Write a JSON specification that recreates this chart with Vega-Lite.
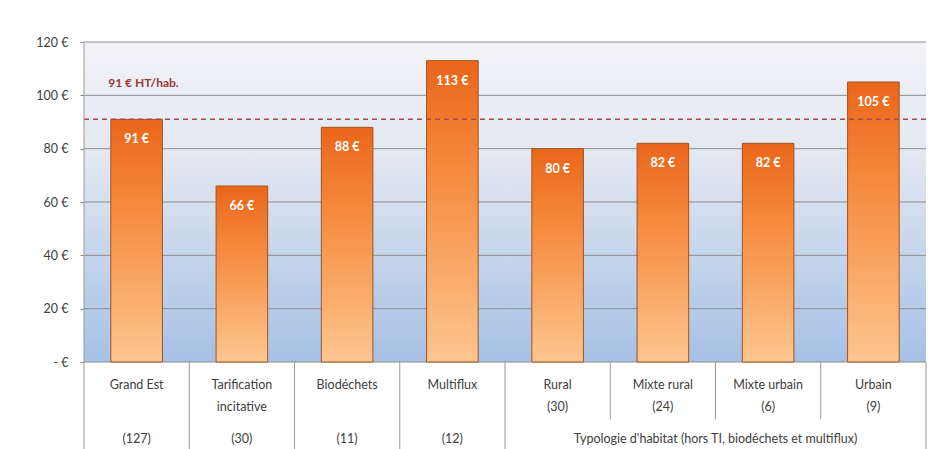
{
  "$schema": "https://vega.github.io/schema/vega-lite/v6.json",
  "width": 842,
  "height": 407,
  "autosize": "none",
  "padding": {"left": 84, "top": 42, "right": 23, "bottom": 0},
  "background": "white",
  "config": {"view": {"stroke": null}, "font": "Lato", "text": {"font": "Lato"}},
  "datasets": {
    "bars": [
      {"cat": "Grand Est", "value": 91, "label": "91 €", "line1": "Grand Est", "line2": "", "line3": "(127)"},
      {"cat": "Tarification incitative", "value": 66, "label": "66 €", "line1": "Tarification", "line2": "incitative", "line3": "(30)"},
      {"cat": "Biodéchets", "value": 88, "label": "88 €", "line1": "Biodéchets", "line2": "", "line3": "(11)"},
      {"cat": "Multiflux", "value": 113, "label": "113 €", "line1": "Multiflux", "line2": "", "line3": "(12)"},
      {"cat": "Rural", "value": 80, "label": "80 €", "line1": "Rural", "line2": "(30)", "line3": ""},
      {"cat": "Mixte rural", "value": 82, "label": "82 €", "line1": "Mixte rural", "line2": "(24)", "line3": ""},
      {"cat": "Mixte urbain", "value": 82, "label": "82 €", "line1": "Mixte urbain", "line2": "(6)", "line3": ""},
      {"cat": "Urbain", "value": 105, "label": "105 €", "line1": "Urbain", "line2": "(9)", "line3": ""}
    ],
    "grid": [{"v": 0}, {"v": 20}, {"v": 40}, {"v": 60}, {"v": 80}, {"v": 100}, {"v": 120}],
    "one": [{}]
  },
  "data": {"name": "bars"},
  "layer": [
    {
      "mark": {"type": "rect", "fill": {"gradient": "linear", "x1": 0, "y1": 0, "x2": 0, "y2": 1, "stops": [{"offset": 0, "color": "#f3f3f7"}, {"offset": 0.35, "color": "#e3e8f2"}, {"offset": 1, "color": "#a6c1e5"}]}},
      "data": {"values": [{"top": 120, "bottom": 0}]},
      "encoding": {
        "y": {"field": "top", "type": "quantitative", "scale": {"domain": [-32.625, 120], "nice": false, "zero": false}, "axis": {"values": [0, 20, 40, 60, 80, 100, 120], "labelExpr": "datum.value == 0 ? '-    €' : datum.value + ' €'", "grid": false, "domain": false, "ticks": true, "tickSize": 4, "tickColor": "#8c8c8c", "labelFont": "Lato", "labelFontSize": 12.5, "labelColor": "#404040", "labelPadding": 12, "title": null}},
        "y2": {"field": "bottom"}
      }
    },
    {
      "data": {"name": "grid"},
      "mark": {"type": "rule", "color": "#8c8c8c", "strokeWidth": 1},
      "encoding": {"y": {"field": "v", "type": "quantitative"}}
    },
    {
      "mark": {"type": "bar", "width": {"band": 0.49}, "stroke": "#a5521c", "strokeWidth": 1, "fill": {"gradient": "linear", "x1": 0, "y1": 0, "x2": 0, "y2": 1, "stops": [{"offset": 0, "color": "#ea661a"}, {"offset": 0.35, "color": "#f5893c"}, {"offset": 1, "color": "#fdc690"}]}},
      "encoding": {
        "x": {"field": "cat", "type": "nominal", "sort": null, "scale": {"paddingInner": 0, "paddingOuter": 0}, "axis": null},
        "y": {"field": "value", "type": "quantitative"}
      }
    },
    {
      "mark": {"type": "text", "color": "white", "fontWeight": "bold", "fontSize": 12.5, "baseline": "middle", "dy": 20},
      "encoding": {
        "x": {"field": "cat", "type": "nominal", "sort": null},
        "y": {"field": "value", "type": "quantitative"},
        "text": {"field": "label"}
      }
    },
    {
      "data": {"name": "one"},
      "mark": {"type": "rule", "color": "#a84848", "strokeDash": [5, 4], "strokeWidth": 1.5},
      "encoding": {"y": {"datum": 91, "type": "quantitative"}}
    },
    {
      "data": {"name": "one"},
      "mark": {"type": "text", "color": "#9a3838", "fontWeight": "bold", "fontSize": 12, "align": "left", "baseline": "middle"},
      "encoding": {
        "x": {"datum": "Grand Est", "type": "nominal", "bandPosition": 0.23},
        "y": {"datum": 104.5, "type": "quantitative"},
        "text": {"value": "91 € HT/hab."}
      }
    },
    {
      "data": {"name": "one"},
      "mark": {"type": "rule", "color": "#9a9a9a", "strokeWidth": 1},
      "encoding": {
        "x": {"datum": "Grand Est", "type": "nominal", "bandPosition": 0},
        "y": {"datum": 120},
        "y2": {"datum": -32.625}
      }
    },
    {
      "mark": {"type": "rule", "color": "#9a9a9a", "strokeWidth": 1},
      "transform": [{"filter": {"field": "cat", "oneOf": ["Tarification incitative", "Biodéchets", "Multiflux", "Rural"]}}],
      "encoding": {
        "x": {"field": "cat", "type": "nominal", "sort": null, "bandPosition": 0},
        "y": {"datum": 0},
        "y2": {"datum": -32.625}
      }
    },
    {
      "mark": {"type": "rule", "color": "#9a9a9a", "strokeWidth": 1},
      "transform": [{"filter": {"field": "cat", "oneOf": ["Mixte rural", "Mixte urbain", "Urbain"]}}],
      "encoding": {
        "x": {"field": "cat", "type": "nominal", "sort": null, "bandPosition": 0},
        "y": {"datum": 0},
        "y2": {"datum": -21.5}
      }
    },
    {
      "data": {"name": "one"},
      "mark": {"type": "rule", "color": "#9a9a9a", "strokeWidth": 1},
      "encoding": {
        "x": {"datum": "Urbain", "type": "nominal", "bandPosition": 1},
        "y": {"datum": 0},
        "y2": {"datum": -32.625}
      }
    },
    {
      "mark": {"type": "text", "color": "#404040", "fontSize": 12.5, "baseline": "middle"},
      "encoding": {
        "x": {"field": "cat", "type": "nominal", "sort": null},
        "y": {"datum": -8.5},
        "text": {"field": "line1"}
      }
    },
    {
      "mark": {"type": "text", "color": "#404040", "fontSize": 12.5, "baseline": "middle"},
      "encoding": {
        "x": {"field": "cat", "type": "nominal", "sort": null},
        "y": {"datum": -17},
        "text": {"field": "line2"}
      }
    },
    {
      "mark": {"type": "text", "color": "#404040", "fontSize": 12.5, "baseline": "middle"},
      "encoding": {
        "x": {"field": "cat", "type": "nominal", "sort": null},
        "y": {"datum": -29},
        "text": {"field": "line3"}
      }
    },
    {
      "data": {"name": "one"},
      "mark": {"type": "text", "color": "#404040", "fontSize": 12.5, "baseline": "middle"},
      "encoding": {
        "x": {"datum": "Mixte urbain", "type": "nominal", "bandPosition": 0},
        "y": {"datum": -29},
        "text": {"value": "Typologie d'habitat (hors TI, biodéchets et multiflux)"}
      }
    }
  ]
}
